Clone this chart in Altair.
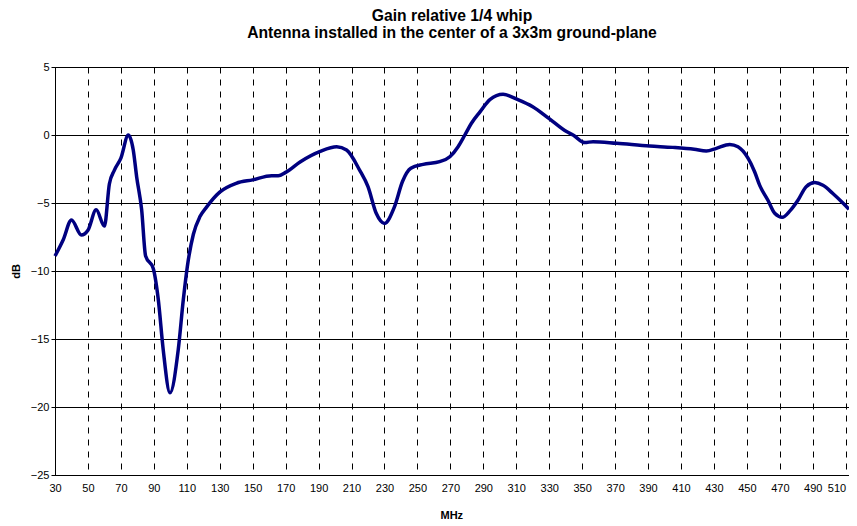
import altair as alt
import pandas as pd

mhz = [30, 35, 40, 46, 50, 55, 60, 63, 66, 70, 74.5, 77.5, 79.6, 82.6, 85, 89.6,
       92.7, 95.7, 99.8, 104.8, 107.9, 110.3, 114, 118, 122, 130, 140, 150, 161.5,
       165.5, 170, 179, 191, 201, 207, 215, 220, 225, 230, 236, 241, 246, 253.5,
       263.5, 269.7, 274.7, 278.8, 282.8, 288, 294, 302, 311, 320, 330, 340.5,
       344.5, 351.6, 356.6, 371, 391, 405, 418, 425.4, 431.5, 439.6, 444.6, 450.7,
       454.7, 457.8, 462.8, 466.9, 471.5, 476, 481, 486, 491.2, 496.2, 502.2,
       508.3, 512]
db = [-8.9, -7.7, -6.25, -7.35, -7.0, -5.5, -6.7, -3.6, -2.6, -1.7, 0.0, -1.1, -3.1,
      -5.5, -8.9, -9.8, -12.1, -15.8, -18.95, -15.8, -12.1, -9.7, -7.3, -6.0, -5.3,
      -4.2, -3.55, -3.3, -3.0, -3.0, -2.75, -1.96, -1.2, -0.86, -1.1, -2.6, -3.8,
      -5.76, -6.5, -5.3, -3.4, -2.45, -2.16, -1.96, -1.6, -0.86, 0.0, 0.86, 1.7,
      2.6, 2.99, 2.6, 2.08, 1.2, 0.25, 0.0, -0.56, -0.49, -0.61, -0.81, -0.91,
      -1.05, -1.18, -0.98, -0.69, -0.86, -1.7, -2.7, -3.7, -4.8, -5.76, -6.05,
      -5.6, -4.8, -3.8, -3.5, -3.7, -4.3, -5.0, -5.46]

x_ticks = list(range(30, 511, 20))
y_ticks = [5, 0, -5, -10, -15, -20, -25]

df = pd.DataFrame({"MHz": mhz, "dB": db})

W, H = 794, 408
xscale = alt.Scale(domain=[30, 512], nice=False, zero=False)
yscale = alt.Scale(domain=[-25, 5], nice=False, zero=False)

chart = alt.Chart(df).mark_line(color="#000080", strokeWidth=3.5, interpolate="monotone").encode(
    x=alt.X("MHz:Q", scale=xscale,
            axis=alt.Axis(values=x_ticks, grid=True, gridColor="black", gridWidth=1,
                          gridDash=[6, 6], gridOpacity=1,
                          title="MHz", titleFontWeight="bold",
                          titleFontSize=11, titleAlign="left", titleAnchor="start",
                          titleX=385, titleY=34,
                          labelFontSize=11, labelPadding=7, tickSize=0,
                          labelOverlap=False, labelBound=False,
                          labelAlign=alt.expr("datum.value >= 510 ? 'right' : 'center'"),
                          labelFont="Liberation Sans", titleFont="Liberation Sans",
                          domainColor="black", labelColor="black", titleColor="black",
                          labelFlush=False)),
    y=alt.Y("dB:Q", scale=yscale,
            axis=alt.Axis(values=y_ticks, grid=True, gridColor="black", gridWidth=1,
                          gridOpacity=1,
                          title="dB", titleFontWeight="bold", titleFontSize=11,
                          titlePadding=9, labelFontSize=11, tickSize=4, tickColor="black",
                          labelFont="Liberation Sans", titleFont="Liberation Sans",
                          domainColor="black", labelColor="black", titleColor="black"))
).properties(
    width=W, height=H,
    title=alt.Title(
        text=["Gain relative 1/4 whip",
              "Antenna installed in the center of a 3x3m ground-plane"],
        font="Liberation Sans", fontSize=15.7, fontWeight="bold", lineHeight=17.5,
        anchor="middle", offset=19, color="black"),
    autosize=alt.AutoSizeParams(type="none"),
    padding={"left": 47, "top": 59, "right": 0, "bottom": 50},
).configure_view(stroke="black", strokeWidth=1)

chart.save("out.html", embed_options={"renderer": "svg", "actions": False})
